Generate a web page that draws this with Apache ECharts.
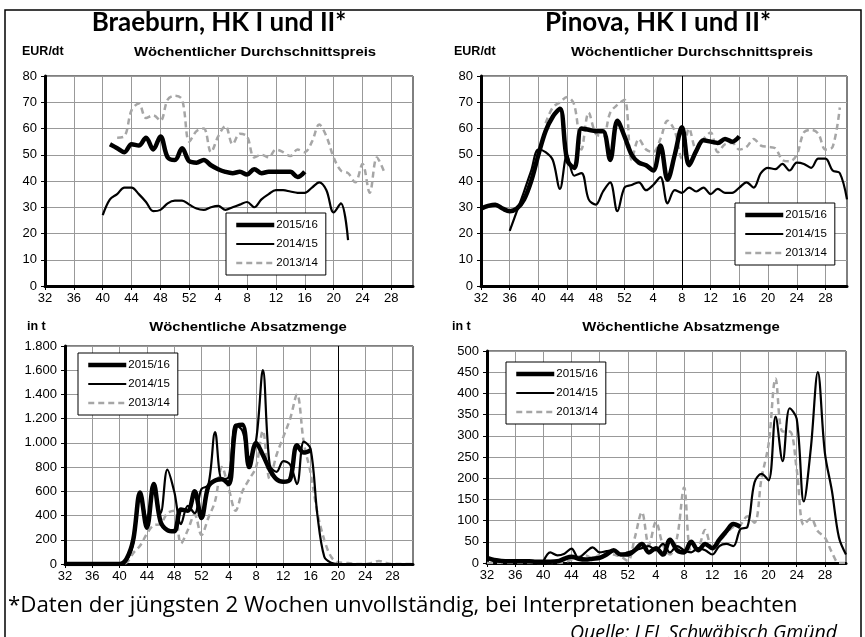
<!DOCTYPE html>
<html>
<head>
<meta charset="utf-8">
<script src="https://cdn.jsdelivr.net/npm/echarts@6/dist/echarts.min.js"></script>
<style>
html, body { margin: 0; padding: 0; background: #fff; }
#chart { width: 865px; height: 637px; }
</style>
</head>
<body>
<div id="chart"></div>
<script>
// Kalenderwochen 32 .. 52, 1 .. 31
const weeks = ['32','33','34','35','36','37','38','39','40','41','42','43','44','45','46','47','48','49','50','51','52',
  '1','2','3','4','5','6','7','8','9','10','11','12','13','14','15','16','17','18','19','20','21','22','23','24','25','26','27','28','29','30','31'];
const seasons = ['2015/16', '2014/15', '2013/14'];

// Braeburn, Preis EUR/dt
const braeburnPreis1516 = [null,null,null,null,null,null,null,null,null,
  54,52.5,51,54,53.5,56.5,52,57,49,48,52.5,47.5,
  47,48,46,44.5,43.5,43,43.5,42.5,44.5,43,43.5,43.5,43.5,43.5,41.5,43.5,
  null,null,null,null,null,null,null,null,null,null,null,null,null,null,null];
const braeburnPreis1415 = [null,null,null,null,null,null,null,null,
  27,33,35,37.5,37.5,35,32,28.5,29,31.5,32.5,32.5,31,
  29.5,29,30,30.5,29,30,31,32,30,33,35,36.5,36.5,36,35.5,35.5,37.5,39.5,36.5,28,31.5,17.5,
  null,null,null,null,null,null,null,null,null];
const braeburnPreis1314 = [null,null,null,null,null,null,null,null,null,null,
  56.5,57,67,69.5,64,65,63,71,72.5,71,55,
  59,60,51,57,61,54,58,57,49,50,49,52,51,49.5,52,51,55,61.5,57,49,44,43,39.5,46.5,35.5,49,43.5,
  null,null,null,null];

// Pinova, Preis EUR/dt
const pinovaPreis1516 = [29.5,30.5,31,29.5,28.5,29.5,33,40,50,59,64.5,67.5,48,45,60,59.5,59,59,48,63,57,
  50,47,46,44,53.5,40.5,50,60.5,46,51.5,55.5,55,54.5,56,55,57,
  null,null,null,null,null,null,null,null,null,null,null,null,null,null,null];
const pinovaPreis1415 = [null,null,null,null,
  21,28.5,36,44,52,51,48,37,50,42,43,33,31,36,39.5,28.5,37.5,
  38.5,39.5,36.5,38.5,41.5,31.5,36.5,35.5,37.5,36,37.5,35,37,35.5,35.5,37.5,39.5,37.5,43,45,44.5,46.5,44,47,46.5,45,48.5,48.5,44,43,33];
const pinovaPreis1314 = [null,null,null,null,null,null,null,null,null,
  62,68,70,72,69,52,66,58,57,66,69,71,
  48,56,52,51,56,63,59,48.5,60,52,56,58.5,51,54,54.5,52,53,56,53.5,53,52.5,48,47.5,50,58.5,59.5,58,52,53,68,
  null];

// Braeburn, Absatzmenge t
const braeburnMenge1516 = [0,0,0,0,0,0,0,0,0,
  40,200,590,300,660,350,280,270,450,440,600,380,
  640,690,700,660,1130,1150,800,1000,900,780,700,680,700,980,920,940,
  null,null,null,null,null,null,null,null,null,null,null,null,null,null,null];
const braeburnMenge1415 = [0,0,0,0,0,0,0,0,0,
  30,170,580,380,620,420,780,600,330,480,420,620,
  650,1090,700,720,1150,1100,880,1020,1600,820,760,850,820,660,1010,950,400,60,10,0,0,0,0,0,0,0,0,0,0,0,0];
const braeburnMenge1314 = [0,0,0,0,0,0,0,0,0,10,
  90,150,250,320,330,420,440,170,280,410,240,
  380,520,800,620,440,600,700,800,1100,700,900,1050,1200,1400,1000,750,420,200,60,15,10,5,0,0,10,25,10,0,0,0,0];

// Pinova, Absatzmenge t
const pinovaMenge1516 = [12,7,5,4,4,4,4,3,3,3,4,10,15,10,8,10,12,20,30,20,20,
  30,45,25,35,20,55,30,25,50,30,45,35,55,75,92,85,
  null,null,null,null,null,null,null,null,null,null,null,null,null,null,null];
const pinovaMenge1415 = [null,null,null,null,null,null,null,null,
  3,25,18,22,34,12,25,37,25,28,30,20,25,
  30,35,40,30,45,25,40,30,25,35,30,20,40,45,40,80,85,190,210,195,345,240,365,340,145,270,450,260,170,60,20];
const pinovaMenge1314 = [0,0,0,0,0,0,0,0,0,0,0,2,
  8,15,18,10,20,25,20,15,5,
  60,120,42,97,42,20,60,178,27,35,78,35,50,70,85,90,110,95,200,280,435,310,310,220,90,105,75,60,25,0,0];

const font = 'Liberation Sans, Arial, sans-serif';
const humanist = '"Open Sans", Lato, sans-serif';

const grids = [
  { left: 45, top: 76, width: 368, height: 210 },
  { left: 481, top: 76, width: 366, height: 210 },
  { left: 65, top: 346, width: 348, height: 218 },
  { left: 487, top: 351, width: 359, height: 212 }
];

function xAxis(i) {
  return {
    type: 'category', gridIndex: i, data: weeks, boundaryGap: false,
    axisLine: { lineStyle: { color: '#000', width: 3 } },
    axisTick: { interval: 3, length: 4, lineStyle: { color: '#000', width: 1 } },
    axisLabel: { interval: 3, color: '#000', fontFamily: font, fontSize: 13, margin: 6 },
    splitLine: { show: true, interval: 3, lineStyle: { color: '#999', width: 1 } }
  };
}

function yAxis(i, max, step, fmt) {
  return {
    type: 'value', gridIndex: i, min: 0, max: max, interval: step,
    axisLine: { show: true, lineStyle: { color: '#000', width: 3 } },
    axisTick: { show: true, length: 4, lineStyle: { color: '#000', width: 1 } },
    axisLabel: { color: '#000', fontFamily: font, fontSize: 13, margin: 8, formatter: fmt },
    splitLine: { lineStyle: { color: '#999', width: 1 } }
  };
}

// dunkle Gitterlinie, wie im Original
function darkLine(week) {
  return {
    silent: true, symbol: 'none', label: { show: false },
    lineStyle: { color: '#000', width: 1, type: 'solid' },
    data: [{ xAxis: week }]
  };
}

function lines(i, d1516, d1415, d1314, mark) {
  const base = { type: 'line', xAxisIndex: i, yAxisIndex: i, smooth: 0.35, symbol: 'none', silent: true };
  return [
    Object.assign({}, base, { name: '2013/14', data: d1314, lineStyle: { color: '#a6a6a6', width: 2.5, type: [6, 4] }, itemStyle: { color: '#a6a6a6' },
      markLine: mark ? darkLine(mark) : undefined, z: 1 }),
    Object.assign({}, base, { name: '2014/15', data: d1415, lineStyle: { color: '#000', width: 2.2 }, itemStyle: { color: '#000' }, z: 2 }),
    Object.assign({}, base, { name: '2015/16', data: d1516, lineStyle: { color: '#000', width: 4.5 }, itemStyle: { color: '#000' }, z: 3 })
  ];
}

function legend(left, top) {
  return {
    data: seasons, orient: 'vertical', left: left, top: top,
    itemWidth: 38, itemHeight: 14, itemGap: 7, padding: [6, 8, 6, 8],
    borderColor: '#000', borderWidth: 1, backgroundColor: '#fff',
    selectedMode: false,
    lineStyle: { width: 'inherit' },
    itemStyle: { color: 'rgba(0,0,0,0)', borderColor: 'rgba(0,0,0,0)', borderWidth: 0, opacity: 0 },
    textStyle: { color: '#000', fontFamily: font, fontSize: 11.5, padding: [0, 0, 0, -3] }
  };
}

function txt(x, y, s, size, opts) {
  return {
    type: 'text', x: x, y: y,
    style: Object.assign({ text: s, fill: '#000', font: 'bold ' + size + 'px ' + font, textAlign: 'left', textVerticalAlign: 'middle' }, opts || {})
  };
}

function subTitle(x, y, s) {
  const t = txt(x, y, s, 12.5, { textAlign: 'center' });
  t.scaleX = 1.19;
  return t;
}

const thousands = v => v >= 1000 ? Math.floor(v / 1000) + '.' + String(v % 1000).padStart(3, '0') : String(v);

const chart = echarts.init(document.getElementById('chart'));
chart.setOption({
  animation: false,
  backgroundColor: '#fff',
  grid: grids.map(g => Object.assign({ show: true, borderColor: '#000', borderWidth: 1, backgroundColor: 'transparent' }, g)),
  xAxis: [0, 1, 2, 3].map(xAxis),
  yAxis: [
    yAxis(0, 80, 10),
    yAxis(1, 80, 10),
    yAxis(2, 1800, 200, thousands),
    yAxis(3, 500, 50)
  ],
  legend: [legend(226, 213), legend(735, 203), legend(78, 353), legend(506, 362)],
  series: [].concat(
    lines(0, braeburnPreis1516, braeburnPreis1415, braeburnPreis1314),
    lines(1, pinovaPreis1516, pinovaPreis1415, pinovaPreis1314, '8'),
    lines(2, braeburnMenge1516, braeburnMenge1415, braeburnMenge1314, '20'),
    lines(3, pinovaMenge1516, pinovaMenge1415, pinovaMenge1314)
  ),
  graphic: [
    { type: 'rect', shape: { x: 5, y: 10, width: 856, height: 640 }, style: { fill: 'none', stroke: '#000', lineWidth: 1.5 }, silent: true },
    txt(219, 23, 'Braeburn, HK I und II*', 26, { textAlign: 'center', font: 'bold 26px Lato, "Open Sans", sans-serif' }),
    txt(658, 23, 'Pinova, HK I und II*', 26, { textAlign: 'center', font: 'bold 26px Lato, "Open Sans", sans-serif' }),
    txt(22, 52, 'EUR/dt', 12.5),
    subTitle(255, 53, 'Wöchentlicher Durchschnittspreis'),
    txt(454, 52, 'EUR/dt', 12.5),
    subTitle(692, 53, 'Wöchentlicher Durchschnittspreis'),
    txt(27, 327, 'in t', 12.5),
    subTitle(248, 328, 'Wöchentliche Absatzmenge'),
    txt(452, 327, 'in t', 12.5),
    subTitle(681, 328, 'Wöchentliche Absatzmenge'),
    txt(8, 606, '*Daten der jüngsten 2 Wochen unvollständig, bei Interpretationen beachten', 22, { font: '22.3px ' + humanist }),
    txt(570, 633, 'Quelle: LEL Schwäbisch Gmünd', 19, { font: 'italic 19.5px ' + humanist })
  ]
});
</script>
</body>
</html>
